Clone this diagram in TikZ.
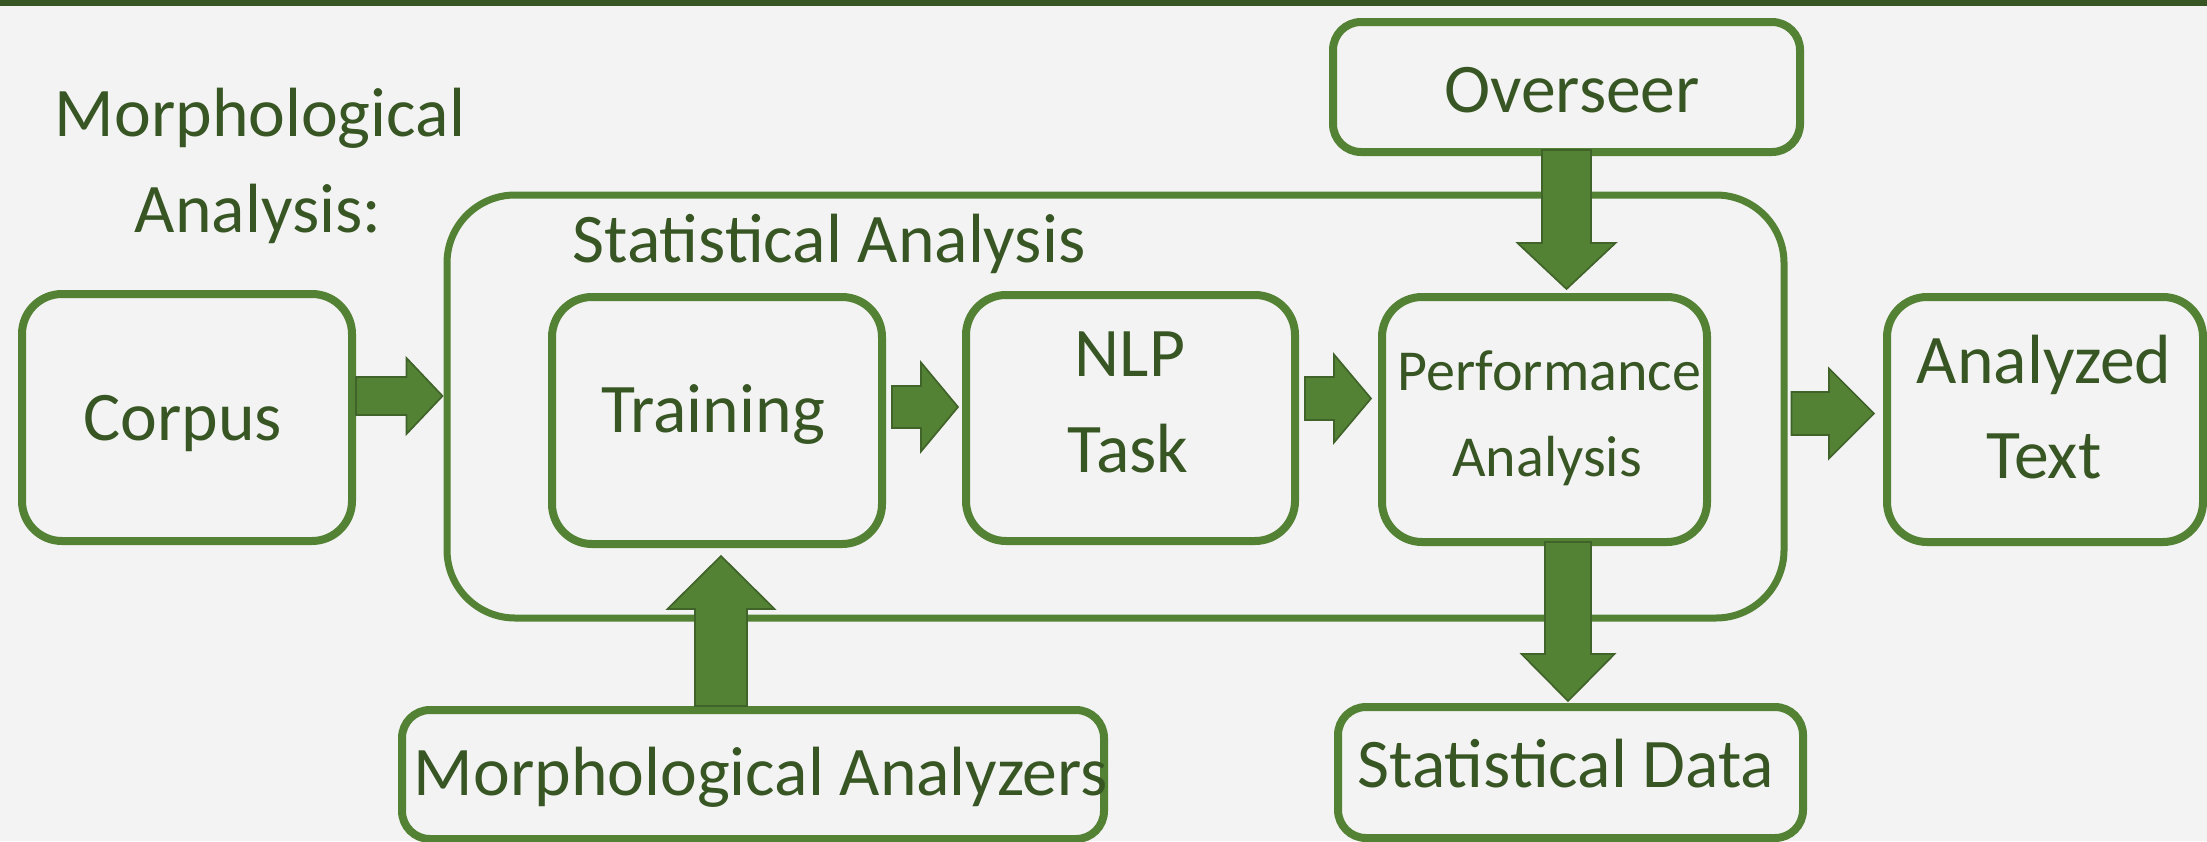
\documentclass[tikz,border=0pt]{standalone}
\usepackage{fontspec}
\setmainfont{Carlito}
\usetikzlibrary{calc}
\definecolor{bordergreen}{HTML}{548235}
\definecolor{textgreen}{HTML}{375623}
\definecolor{arrowedge}{HTML}{3F6328}
\definecolor{bgcol}{HTML}{F3F3F3}
\newcommand\blockR[5]{\draw[blockarrow] ($#1+(0,-#3)$) -- ($#2+(-#5,-#3)$) -- ($#2+(-#5,-#4)$) -- #2 -- ($#2+(-#5,#4)$) -- ($#2+(-#5,#3)$) -- ($#1+(0,#3)$) -- cycle;}
\newcommand\blockD[5]{\draw[blockarrow] ($#1+(-#3,0)$) -- ($#2+(-#3,-#5)$) -- ($#2+(-#4,-#5)$) -- #2 -- ($#2+(#4,-#5)$) -- ($#2+(#3,-#5)$) -- ($#1+(#3,0)$) -- cycle;}
\newcommand\blockU[5]{\draw[blockarrow] ($#1+(-#3,0)$) -- ($#2+(-#3,#5)$) -- ($#2+(-#4,#5)$) -- #2 -- ($#2+(#4,#5)$) -- ($#2+(#3,#5)$) -- ($#1+(#3,0)$) -- cycle;}
\begin{document}
\begin{tikzpicture}[x=0.3pt,y=-0.3pt,
  box/.style={draw=bordergreen,line width=2.4pt,rounded corners=12pt,inner sep=0pt},
  smallbox/.style={box,rounded corners=8.4pt},
  outerbox/.style={draw=bordergreen,line width=2.1pt,rounded corners=20.4pt,inner sep=0pt},
  blockarrow/.style={fill=bordergreen,draw=arrowedge,line width=0.5pt,line join=miter},
  txt/.style={text=textgreen,inner sep=0pt,anchor=base,font=\fontsize{20.9pt}{25pt}\selectfont},
  smalltxt/.style={txt,font=\fontsize{17.4pt}{21pt}\selectfont}]
\fill[bgcol] (0,0) rectangle (2207,841);
\useasboundingbox (0,0) rectangle (2207,841);
\fill[textgreen] (0,0) rectangle (2207,6);
% boxes
\node[outerbox,minimum width=401.1pt,minimum height=126.9pt] (outer) at (1115.5,406.5) {};
\node[box,minimum width=99pt,minimum height=74.1pt] (corpus) at (187,417.5) {};
\node[box,minimum width=99pt,minimum height=74.1pt] (training) at (717,420.5) {};
\node[box,minimum width=98.7pt,minimum height=73.8pt] (nlp) at (1130.5,418) {};
\node[box,minimum width=97.5pt,minimum height=73.5pt] (perf) at (1544.5,419.5) {};
\node[box,minimum width=94.8pt,minimum height=73.5pt] (analyzed) at (2045,419.5) {};
\node[smallbox,minimum width=140.1pt,minimum height=39pt] (overseer) at (1566.5,87) {};
\node[smallbox,minimum width=210.6pt,minimum height=38.7pt] (morphan) at (753,774.5) {};
\node[smallbox,minimum width=139.5pt,minimum height=39.3pt] (statdata) at (1570.5,772.5) {};
% arrow end points
\coordinate (a1s) at ($(corpus.east)+(0,-21.5)$);
\coordinate (a1t) at ($(outer.west)+(-1,-10.5)$);
\coordinate (a2s) at ($(training.east)+(6,-13.5)$);
\coordinate (a2t) at ($(nlp.west)+(-4,-11)$);
\coordinate (a3s) at ($(nlp.east)+(6,-19.5)$);
\coordinate (a3t) at ($(perf.west)+(-7,-21)$);
\coordinate (a4s) at ($(outer.east)+(4,7)$);
\coordinate (a4t) at ($(analyzed.west)+(-9,-6)$);
\coordinate (a5s) at ($(overseer.south)+(0,-6)$);
\coordinate (a5t) at ($(overseer.south |- perf.north)+(0,-4)$);
\coordinate (a6s) at ($(training.south |- morphan.north)+(4,0)$);
\coordinate (a6t) at ($(training.south)+(4,8)$);
\coordinate (a7s) at ($(statdata.north |- perf.south)+(-2.5,-4)$);
\coordinate (a7t) at ($(statdata.north)+(-2.5,-2)$);
% block arrows
\blockR{(a1s)}{(a1t)}{19}{38}{36}
\blockR{(a2s)}{(a2t)}{21}{44.5}{37}
\blockR{(a3s)}{(a3t)}{21.5}{44}{37}
\blockR{(a4s)}{(a4t)}{21.5}{45}{45}
\blockD{(a5s)}{(a5t)}{24.5}{49}{46}
\blockU{(a6s)}{(a6t)}{26}{53.5}{53}
\blockD{(a7s)}{(a7t)}{23}{46.5}{47}
% texts
\node[txt] (titleA) at (260,136) {Morphological};
\node[txt] (titleB) at (258,232) {Analysis:};
\node[txt] (stattitle) at (829,262) {Statistical Analysis};
\node[txt] (corpusT) at (183,440) {Corpus};
\node[txt] (trainingT) at (713,432) {Training};
\node[txt] (nlpA) at (1130,376) {NLP};
\node[txt] (nlpB) at (1128,472) {Task};
\node[smalltxt] (perfA) at (1549.5,390) {Performance};
\node[smalltxt] (perfB) at (1547,476) {Analysis};
\node[txt] (analyzedA) at (2044,383) {Analyzed};
\node[txt] (analyzedB) at (2044,478) {Text};
\node[txt] (overseerT) at (1572,112) {Overseer};
\node[txt] (morphanT) at (761,795) {Morphological Analyzers};
\node[txt] (statdataT) at (1566,787) {Statistical Data};
\end{tikzpicture}
\end{document}
